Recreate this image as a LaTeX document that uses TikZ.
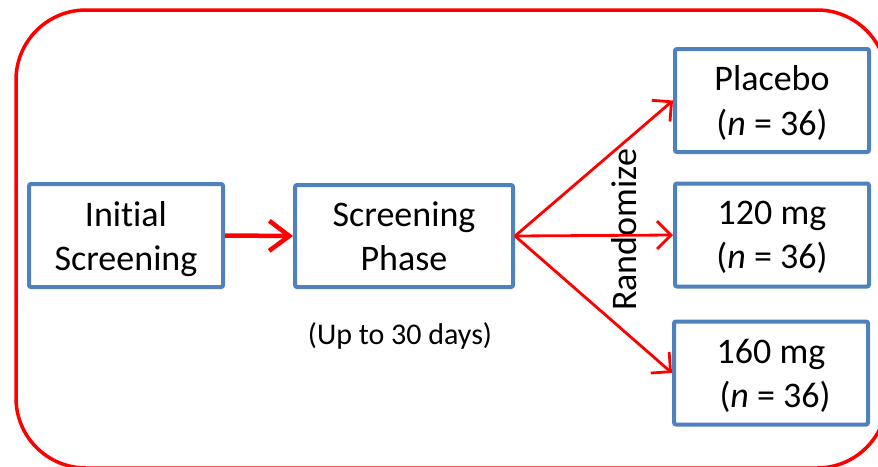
\documentclass[tikz,border=0pt]{standalone}
\usepackage{fontspec}
\setmainfont[Ligatures=NoCommon]{Carlito}
\usetikzlibrary{arrows.meta}
\definecolor{boxblue}{HTML}{4F81BD}
\begin{document}
\begin{tikzpicture}[x=1pt,y=-1pt,
  stage/.style={draw=boxblue, line width=4pt, rounded corners=2pt, fill=white,
    align=center, inner sep=0pt, text depth=0pt,
    font=\fontsize{36}{44}\selectfont},
  armbox/.style={stage, minimum width=194pt, minimum height=103pt},
  flow/.style={draw=red, line width=2.8pt, line join=round,
    -{Straight Barb[length=14pt,width=28pt]}},
  mainflow/.style={draw=red, line width=4.5pt,
    -{Straight Barb[length=20pt,width=30pt]}},
]
\useasboundingbox (0,0) rectangle (878,466);

% outer red frame
\begin{scope}
  \clip (0,0) rectangle (878,466);
  \draw[red, line width=3.5pt, rounded corners=70pt] (16,10) rectangle (887,468);
\end{scope}

% stages
\node[stage, minimum width=194pt, minimum height=103pt] (init) at (126,235.5)
  {Initial\\Screening};
\node[stage, minimum width=218pt, minimum height=102pt] (scr) at (404,236)
  {Screening\\Phase};

% treatment arms
\node[armbox] (pla) at (772,100.5) {Placebo\\(\textit{n} = 36)};
\node[armbox] (m120) at (772,235) {120 mg\\(\textit{n} = 36)};
\node[armbox] (m160) at (771,373) {160 mg\\~(\textit{n} = 36)};

% labels
\node[font=\fontsize{30}{36}\selectfont] (dur) at (400,336) {(Up to 30 days)};
\node[rotate=90, inner sep=0pt, font=\fontsize{36}{44}\selectfont] (rand) at (624,230) {Randomize};

% connectors
\draw[mainflow] (init.east) -- (scr.west);
\draw[flow] (scr.east) -- (pla.west);
\draw[flow] (scr.east) -- (m120.west);
\draw[flow] (scr.east) -- (m160.west);
\end{tikzpicture}
\end{document}
